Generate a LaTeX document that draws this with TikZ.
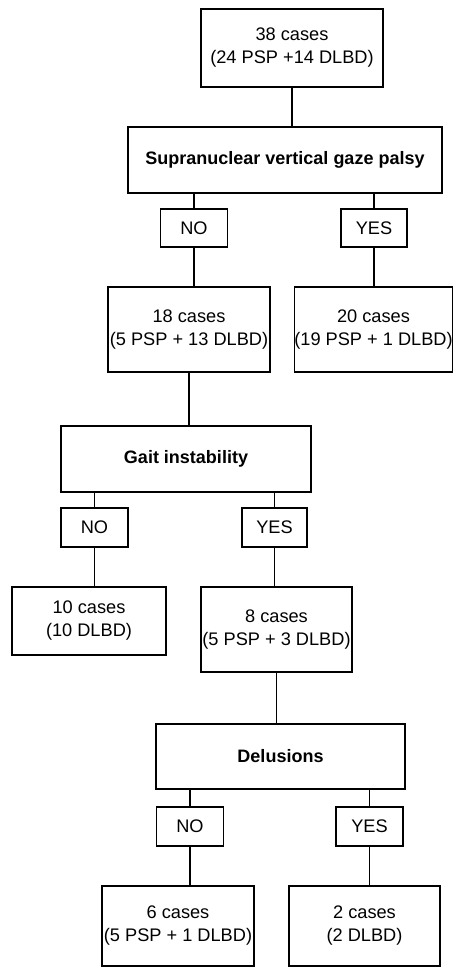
\documentclass[tikz,border=0pt]{standalone}
\usepackage{fontspec}
\setmainfont{Liberation Sans}
\begin{document}
\begin{tikzpicture}[x=1pt,y=-1pt,
  box/.style={draw=black, line width=1.4pt, fill=white, align=center, inner sep=0pt,
    font=\fontsize{18.2}{23}\selectfont},
  qbox/.style={box, font=\fontsize{18}{22}\selectfont\bfseries},
  ans/.style={box, minimum width=67pt, minimum height=38pt},
  link/.style={draw=black, line width=1.5pt}]
\useasboundingbox (0,0) rectangle (454,969);
\node[box, minimum width=182pt, minimum height=78pt] (top) at (292,48) {38 cases\\(24 PSP +14 DLBD)};
\node[qbox, minimum width=314pt, minimum height=66pt] (gaze) at (285,160) {Supranuclear vertical gaze palsy};
\node[ans] (no1) at (194,228) {NO};
\node[ans, minimum width=66pt] (yes1) at (374,228) {YES};
\node[box, minimum width=162pt, minimum height=85pt] (c18) at (189,329.5) {18 cases\\(5 PSP + 13 DLBD)};
\node[box, minimum width=158pt, minimum height=85pt] (c20) at (373.5,329.5) {20 cases\\(19 PSP + 1 DLBD)};
\node[qbox, minimum width=250pt, minimum height=66pt] (gait) at (186,459) {Gait instability};
\node[ans, minimum height=39pt] (no2) at (94.5,527.5) {NO};
\node[ans, minimum width=65pt, minimum height=39pt] (yes2) at (274.5,527.5) {YES};
\node[box, minimum width=154pt, minimum height=68pt] (c10) at (89,621) {10 cases\\(10 DLBD)};
\node[box, minimum width=151pt, minimum height=85pt] (c8) at (276.5,629.5) {8 cases\\(5 PSP + 3 DLBD)};
\node[qbox, minimum width=249pt, minimum height=65pt] (delus) at (280.5,756.5) {Delusions};
\node[ans, minimum height=39pt] (no3) at (190,826.5) {NO};
\node[ans, minimum height=39pt] (yes3) at (369.5,826.5) {YES};
\node[box, minimum width=152pt, minimum height=80pt] (c6) at (178,926) {6 cases\\(5 PSP + 1 DLBD)};
\node[box, minimum width=151pt, minimum height=80pt] (c2) at (364.5,926) {2 cases\\(2 DLBD)};
\path[link] (top.south) -- (top.south |- gaze.north);
\path[link] (no1.north) -- (no1.north |- gaze.south);
\path[link] (yes1.north) -- (yes1.north |- gaze.south);
\path[link] (no1.south) -- (no1.south |- c18.north);
\path[link] (yes1.south) -- (yes1.south |- c20.north);
\path[link] (c18.south) -- (c18.south |- gait.north);
\path[link] (no2.north) -- (no2.north |- gait.south);
\path[link] (yes2.north) -- (yes2.north |- gait.south);
\path[link] (no2.south) -- (no2.south |- c10.north);
\path[link] (yes2.south) -- (yes2.south |- c8.north);
\path[link] (c8.south) -- (c8.south |- delus.north);
\path[link] (no3.north) -- (no3.north |- delus.south);
\path[link] (yes3.north) -- (yes3.north |- delus.south);
\path[link] (no3.south) -- (no3.south |- c6.north);
\path[link] (yes3.south) -- (yes3.south |- c2.north);
\end{tikzpicture}
\end{document}
